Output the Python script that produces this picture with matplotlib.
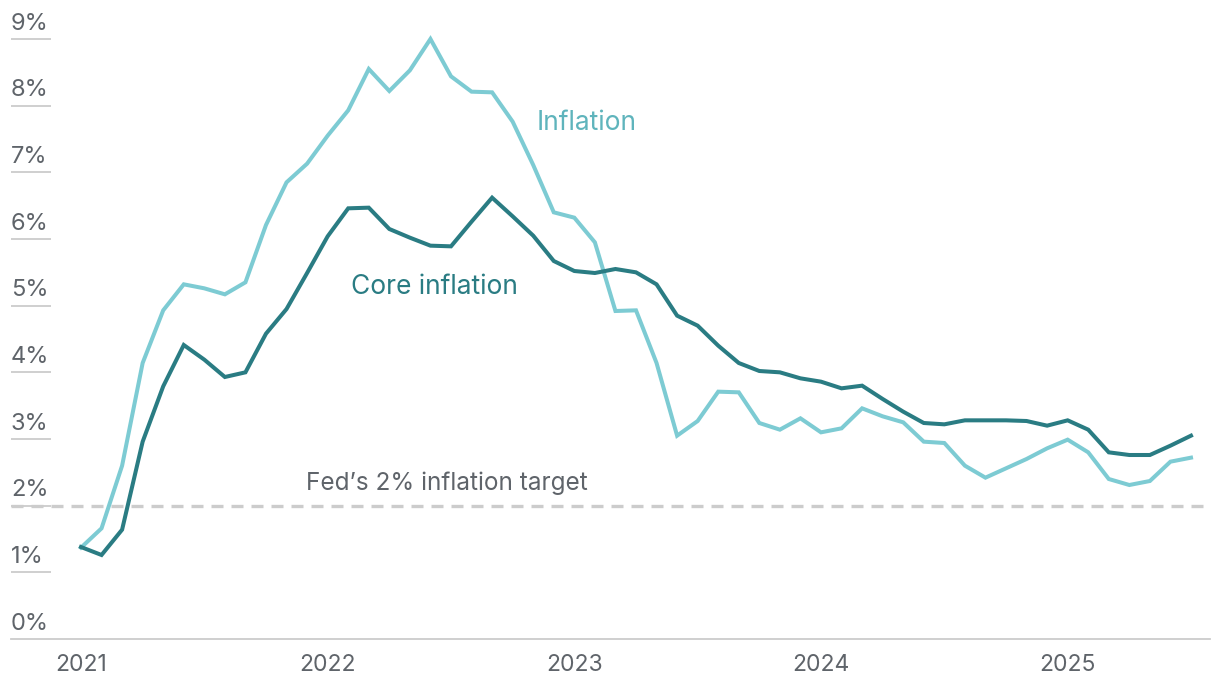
import matplotlib
matplotlib.use("Agg")
import matplotlib.pyplot as plt
import matplotlib.transforms as mtransforms

# ---- data (monthly, Jan 2021 - Jul 2025) ----
inflation = [
    1.37, 1.66, 2.60, 4.14, 4.93, 5.32, 5.26, 5.17, 5.35, 6.21, 6.85, 7.13,
    7.55, 7.93, 8.55, 8.22, 8.53, 9.00, 8.44, 8.21, 8.20, 7.76, 7.11, 6.40,
    6.32, 5.95, 4.92, 4.93, 4.14, 3.05, 3.27, 3.71, 3.70, 3.24, 3.14, 3.31,
    3.10, 3.16, 3.46, 3.34, 3.25, 2.96, 2.94, 2.60, 2.42, 2.56, 2.70, 2.86,
    2.99, 2.80, 2.40, 2.31, 2.37, 2.66, 2.72,
]
core_inflation = [
    1.38, 1.26, 1.64, 2.96, 3.79, 4.41, 4.19, 3.93, 4.00, 4.58, 4.95, 5.49,
    6.04, 6.46, 6.47, 6.15, 6.02, 5.90, 5.89, 6.26, 6.62, 6.34, 6.05, 5.67,
    5.52, 5.49, 5.55, 5.50, 5.32, 4.85, 4.70, 4.40, 4.14, 4.02, 4.00, 3.91,
    3.86, 3.76, 3.80, 3.60, 3.41, 3.24, 3.22, 3.28, 3.28, 3.28, 3.27, 3.20,
    3.28, 3.14, 2.80, 2.76, 2.76, 2.90, 3.05,
]
months = list(range(len(inflation)))
year_ticks = [0, 12, 24, 36, 48]
year_labels = ["2021", "2022", "2023", "2024", "2025"]
y_ticks = list(range(0, 10))
y_labels = [f"{v}%" for v in y_ticks]
fed_target = 2.0

# ---- style ----
plt.rcParams['font.family'] = ['Inter', 'DejaVu Sans']
c_infl = "#7dcbd3"
c_core = "#2a7c83"
c_infl_txt = "#5fb4bc"
c_text = "#5f646a"
c_grid = "#cccccc"

W, H = 1220, 690
fig = plt.figure(figsize=(W / 100, H / 100), dpi=100)
left_px, right_px, bottom_px, top_px = 11, 1210, 639, 19
ax = fig.add_axes([left_px / W, (H - bottom_px) / H,
                   (right_px - left_px) / W, (bottom_px - top_px) / H])

px_per_month = 20.56
x0 = -(81 - left_px) / px_per_month
x1 = 54 + (right_px - 1191) / px_per_month
ax.set_xlim(x0, x1)
ax.set_ylim(0, 9.3)

for s in ["top", "right", "left"]:
    ax.spines[s].set_visible(False)
ax.spines["bottom"].set_color(c_grid)
ax.spines["bottom"].set_linewidth(1.3)

# y tick labels with short lines beneath
trans = mtransforms.blended_transform_factory(ax.transAxes, ax.transData)
short_len = 40 / (right_px - left_px)
ax.set_yticks([])
for v, lab in zip(y_ticks, y_labels):
    if v > 0:
        ax.plot([0, short_len], [v, v], transform=trans, color=c_grid,
                lw=1.3, solid_capstyle="butt", zorder=1)
    ax.text(0, v + 0.14, lab, transform=trans, ha="left", va="baseline",
            fontsize=17, color=c_text)

# Fed target line
ax.axhline(fed_target, color=c_grid, lw=2.4, linestyle=(0, (3.6, 2.4)), zorder=1)
ax.text(10.94, 2.235, "Fed\u2019s 2% inflation target", ha="left", va="baseline",
        fontsize=17.5, color=c_text)

# series
ax.plot(months, inflation, color=c_infl, lw=2.9, solid_joinstyle="miter", zorder=3)
ax.plot(months, core_inflation, color=c_core, lw=2.9, solid_joinstyle="miter", zorder=4)

ax.text(22.18, 7.635, "Inflation", ha="left", va="baseline", fontsize=19,
        color=c_infl_txt)
ax.text(13.13, 5.175, "Core inflation", ha="left", va="baseline", fontsize=19,
        color=c_core)

ax.set_xticks(year_ticks)
ax.set_xticklabels(year_labels, fontsize=16.5, color=c_text)
ax.tick_params(axis="x", length=0, pad=11)

fig.savefig("out.png", dpi=100)
